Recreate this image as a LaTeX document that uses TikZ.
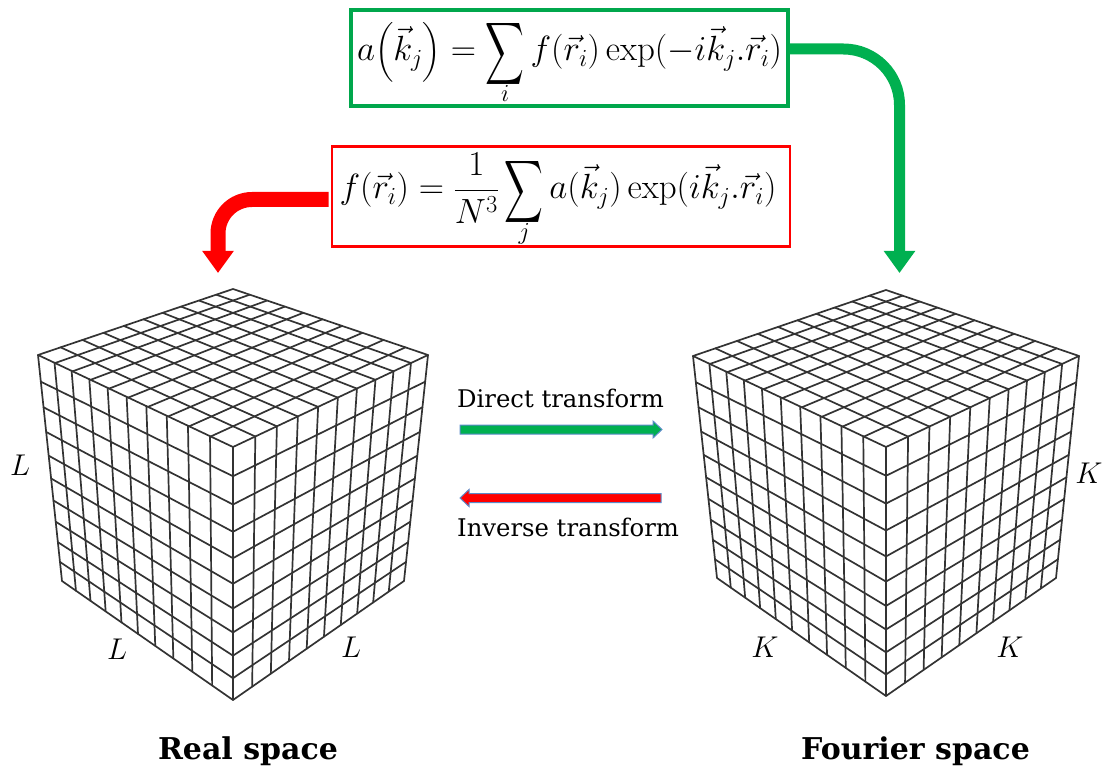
\documentclass[tikz,border=0pt]{standalone}
\usepackage{fix-cm}
\usepackage{amsmath}
\usepackage[no-math]{fontspec}
\setmainfont{DejaVu Serif}
\usetikzlibrary{calc,arrows.meta}
\definecolor{gr}{HTML}{00B050}
\definecolor{rd}{HTML}{FF0000}
\definecolor{ol}{HTML}{5B8BC9}
\definecolor{gl}{HTML}{333333}
\newcommand{\bigsum}{\mathop{\raisebox{-8pt}[38pt][20pt]{\scalebox{1.08}[1.75]{$\displaystyle\sum$}}}}
\tikzset{
 gridline/.style={draw=gl,line width=1.7pt,line cap=round,line join=round},
 greenbox/.style={draw=gr!95!black,line width=3.2pt,minimum width=437pt,minimum height=96pt,inner sep=0pt,text height=45pt,text depth=39pt},
 redbox/.style={draw=rd,line width=2.6pt,minimum width=458pt,minimum height=100pt,inner sep=0pt,text height=45pt,text depth=40pt},
 bigarrow/.style={-{Triangle[length=22pt,width=30pt]}},
 labeltext/.style={font=\fontsize{24.3}{28}\selectfont,inner sep=0pt,anchor=base west},
 titletext/.style={font=\fontsize{30}{34}\selectfont\bfseries,inner sep=0pt,anchor=base},
 sidelabel/.style={font=\fontsize{30}{32}\selectfont,inner sep=0pt},
 eqn/.style={font=\fontsize{35}{38}\selectfont}
}
\newcommand{\gridfam}[6]{%
 \foreach \gk in {1,...,9}{%
  \pgfmathsetmacro\gT{\gk/10}%
  \pgfmathsetmacro\gA{\gT/(\gT+#5*(1-\gT))}%
  \pgfmathsetmacro\gB{\gT/(\gT+#6*(1-\gT))}%
  \draw[gridline] ($(#1)!\gA!(#2)$) -- ($(#3)!\gB!(#4)$);
 }}
\newcommand{\cubegrid}[1]{%
 \draw[gridline] (#1a) -- (#1r) -- (#1br) -- (#1b) -- (#1bl) -- (#1l) -- cycle;
 \draw[gridline] (#1l) -- (#1n) -- (#1r) (#1n) -- (#1b);
 \gridfam{#1a}{#1l}{#1r}{#1n}{1.18}{1.16}
 \gridfam{#1a}{#1r}{#1l}{#1n}{1.18}{1.16}
 \gridfam{#1l}{#1n}{#1bl}{#1b}{1.2}{1.25}
 \gridfam{#1l}{#1bl}{#1n}{#1b}{0.83}{0.85}
 \gridfam{#1n}{#1r}{#1b}{#1br}{0.86}{0.88}
 \gridfam{#1r}{#1br}{#1n}{#1b}{0.83}{0.85}
}
\begin{document}
\begin{tikzpicture}[x=1pt,y=-1pt]
\useasboundingbox (0,0) rectangle (1103,767);
% left cube
\coordinate (Aa) at (233,289); \coordinate (Al) at (38,355); \coordinate (Ar) at (428,355);
\coordinate (An) at (233,447); \coordinate (Abl) at (62,581); \coordinate (Abr) at (404,581);
\coordinate (Ab) at (233,700);
\cubegrid{A}
% right cube
\coordinate (Ba) at (886,290); \coordinate (Bl) at (693,356); \coordinate (Br) at (1079,356);
\coordinate (Bn) at (886,447); \coordinate (Bbl) at (717,578); \coordinate (Bbr) at (1056,578);
\coordinate (Bb) at (886,696);
\cubegrid{B}
% formula boxes
\node[greenbox,eqn] (green) at (569.5,58) {$\displaystyle a\!\left(\vec{k}_j\right)=\bigsum_i f(\vec{r}_i)\exp(-i\vec{k}_j.\vec{r}_i)$};
\node[redbox,eqn] (red) at (561,196.5) {$\displaystyle f(\vec{r}_i)=\frac{1}{N^3}\bigsum_j a(\vec{k}_j)\exp(i\vec{k}_j.\vec{r}_i)\hspace{6pt}$};
% big arrows
\coordinate (gtip) at (899.5,273);
\coordinate (rtip) at (218,273);
\draw[bigarrow,gr,line width=11pt,rounded corners=56pt] ([yshift=9pt]green.east) -| (gtip);
\draw[bigarrow,rd,line width=15pt,rounded corners=34pt] ([xshift=-2pt,yshift=-3pt]red.west) -| (rtip);
% horizontal arrows
\coordinate (d1) at (460,429.5); \coordinate (d2) at (662,429.5);
\coordinate (i1) at (661,498); \coordinate (i2) at (460,498);
\filldraw[fill=gr,draw=ol,line width=1pt] (d1) ++(0,-4.5) -- ($(d2)+(-9,-4.5)$) -- ($(d2)+(-9,-8.5)$) -- (d2) -- ($(d2)+(-9,8.5)$) -- ($(d2)+(-9,4.5)$) -- ($(d1)+(0,4.5)$) -- cycle;
\filldraw[fill=rd,draw=ol,line width=1pt] (i1) ++(0,-4.5) -- ($(i2)+(9,-4.5)$) -- ($(i2)+(9,-8.5)$) -- (i2) -- ($(i2)+(9,8.5)$) -- ($(i2)+(9,4.5)$) -- ($(i1)+(0,4.5)$) -- cycle;
% texts
\node[labeltext] (dt) at (457,407) {Direct transform};
\node[labeltext] (it) at (457,536) {Inverse transform};
\node[titletext] (rs) at (248,759) {Real space};
\node[titletext] (fs) at (915.5,759) {Fourier space};
\node[sidelabel] (l1) at (20,465) {$L$};
\node[sidelabel] (l2) at (117,649) {$L$};
\node[sidelabel] (l3) at (351,647) {$L$};
\node[sidelabel] (k1) at (765,647) {$K$};
\node[sidelabel] (k2) at (1010,647) {$K$};
\node[sidelabel] (k3) at (1089,473) {$K$};
\end{tikzpicture}
\end{document}
